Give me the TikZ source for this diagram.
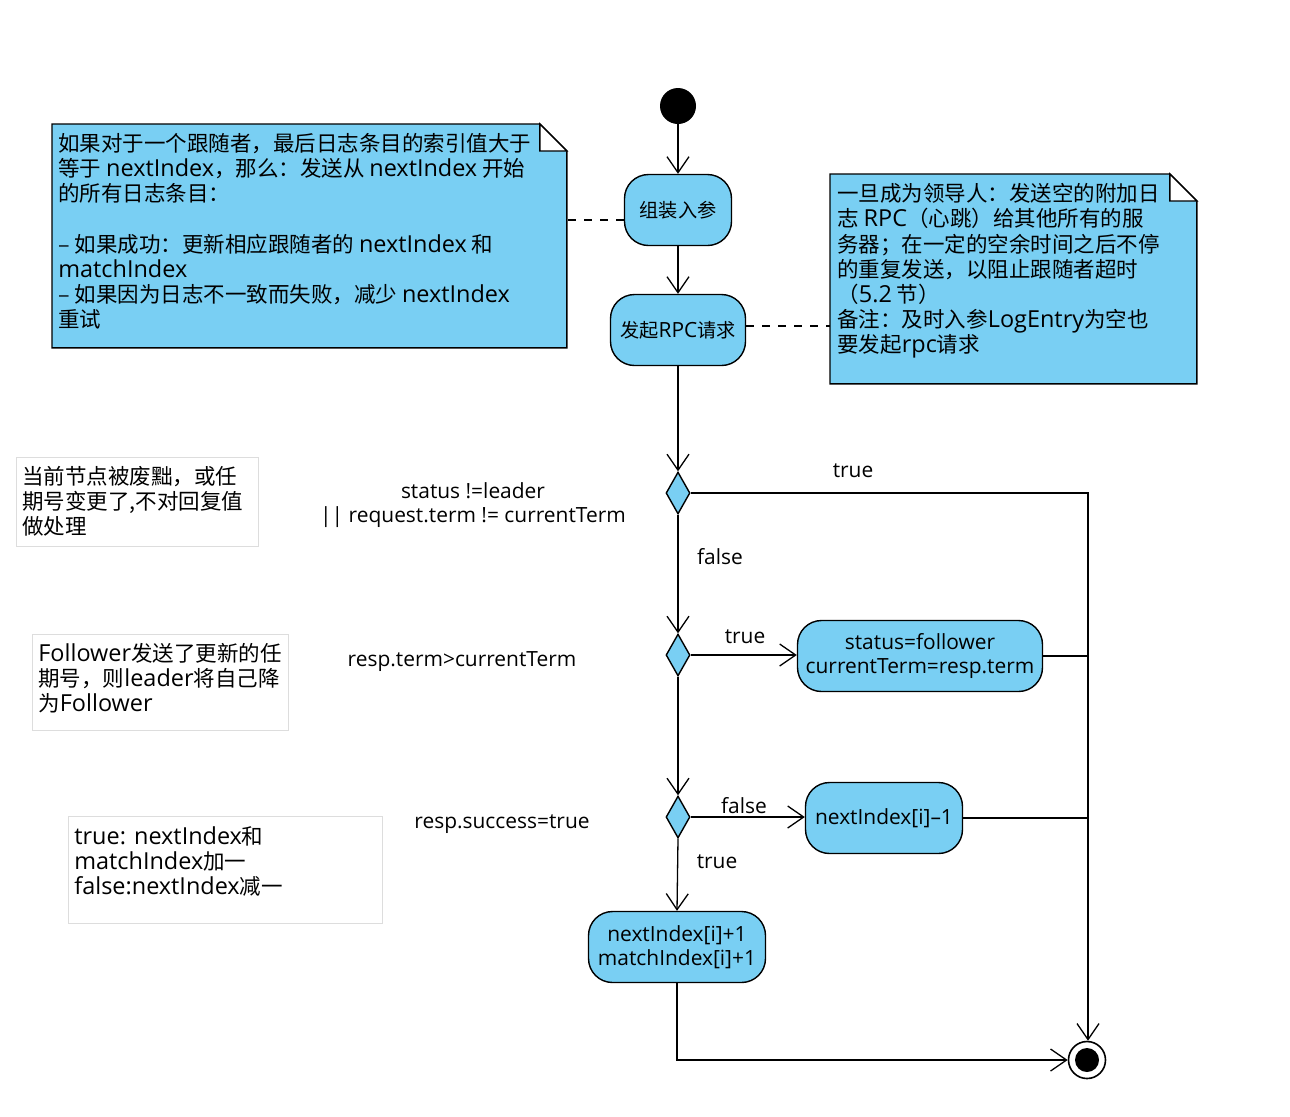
\documentclass[tikz,border=0pt]{standalone}
\usepackage{fontspec}
\setmainfont{Noto Sans CJK SC}
\newfontfamily\enfont[Scale=1.09]{Open Sans}
\usepackage{xcolor}
\usepackage{tikz}
\usetikzlibrary{shapes.geometric, arrows.meta, positioning}
\definecolor{actcolor}{RGB}{121,207,243}
\definecolor{cmtcolor}{RGB}{221,221,221}

\begin{document}
\begin{tikzpicture}[x=0.5pt, y=-0.5pt,
  act/.style={rectangle, rounded corners=12pt, draw, line width=0.7pt,
              fill=actcolor, minimum height=35.5pt, align=center,
              font=\fontsize{9.6}{12}\selectfont, inner sep=2pt},
  decision/.style={diamond, draw, line width=0.7pt, fill=actcolor,
                   minimum width=12pt, minimum height=21pt, inner sep=0pt},
  notebox/.style={rectangle, inner sep=0pt, anchor=north west},
  notetext/.style={align=left, inner sep=0pt, font=\fontsize{10.75}{12.6}\selectfont},
  cmtbox/.style={rectangle, draw=cmtcolor, line width=0.5pt, inner sep=0pt,
                 anchor=north west},
  lbl/.style={font=\enfont\fontsize{9.6}{12}\selectfont, inner sep=0pt, align=center},
  flow/.style={-{Straight Barb[length=8pt, width=11pt]}, line width=0.65pt},
  line/.style={line width=0.65pt},
  link/.style={dash pattern=on 4pt off 4pt, line width=0.6pt}
]
\useasboundingbox (0,0) rectangle (1290,1116);

% initial and final
\node[circle, fill=black, minimum size=18pt, inner sep=0pt] (start) at (678,106) {};
\node[circle, draw, line width=0.8pt, fill=white, minimum size=18.5pt, inner sep=0pt]
  (stop) at (1087,1060) {};
\node[circle, fill=black, minimum size=12pt, inner sep=0pt] (stopdot) at (stop) {};

% actions
\node[act, minimum width=53.5pt] (pack) at (678,210) {组装入参};
\node[act, minimum width=67.5pt] (send) at (678,330) {发起{\enfont RPC}请求};
\node[decision] (chkLeader) at (678,493) {};
\node[decision] (chkTerm) at (678,655) {};
\node[decision] (chkOk) at (678,817) {};
\node[act, font=\enfont\fontsize{9.6}{12}\selectfont, minimum width=122.5pt]
  (toFollower) at (920,656) {status=follower\\currentTerm=resp.term};
\node[act, font=\enfont\fontsize{9.6}{12}\selectfont, minimum width=78.5pt]
  (decNext) at (884,818) {nextIndex[i]–1};
\node[act, font=\enfont\fontsize{9.6}{12}\selectfont, minimum width=88.5pt]
  (incNext) at (677,947) {nextIndex[i]+1\\matchIndex[i]+1};
\coordinate (rail) at (1088,493);

% notes
\node[notebox, minimum width=257pt, minimum height=111.5pt] (note1) at (52,124) {};
\filldraw[fill=actcolor, line width=0.7pt] (note1.south west) -- (note1.north west)
  -- ([xshift=-13.5pt]note1.north east) -- ([yshift=-13.5pt]note1.north east)
  -- (note1.south east) -- cycle;
\filldraw[fill=white, line width=0.7pt] ([xshift=-13.5pt]note1.north east)
  -- ([xshift=-13.5pt, yshift=-13.5pt]note1.north east)
  -- ([yshift=-13.5pt]note1.north east) -- cycle;
\node[notetext, below right=4.5pt and 3pt of note1.north west] (note1txt)
  {如果对于一个跟随者，最后日志条目的索引值大于\\
   等于 {\enfont nextIndex}，那么：发送从 {\enfont nextIndex} 开始\\
   的所有日志条目：\\[12.6pt]
   – 如果成功：更新相应跟随者的 {\enfont nextIndex} 和\\
   {\enfont matchIndex}\\
   – 如果因为日志不一致而失败，减少 {\enfont nextIndex}\\
   重试};

\node[notebox, minimum width=183pt, minimum height=104.5pt] (note2) at (830,174) {};
\filldraw[fill=actcolor, line width=0.7pt] (note2.south west) -- (note2.north west)
  -- ([xshift=-13.5pt]note2.north east) -- ([yshift=-13.5pt]note2.north east)
  -- (note2.south east) -- cycle;
\filldraw[fill=white, line width=0.7pt] ([xshift=-13.5pt]note2.north east)
  -- ([xshift=-13.5pt, yshift=-13.5pt]note2.north east)
  -- ([yshift=-13.5pt]note2.north east) -- cycle;
\node[notetext, below right=4.5pt and 3.5pt of note2.north west] (note2txt)
  {一旦成为领导人：发送空的附加日\\
   志 {\enfont RPC}（心跳）给其他所有的服\\
   务器；在一定的空余时间之后不停\\
   的重复发送，以阻止跟随者超时\\
   （{\enfont 5.2} 节）\\
   备注：及时入参{\enfont LogEntry}为空也\\
   要发起{\enfont rpc}请求};

\draw[link] ([yshift=-5pt]pack.west) -- ([yshift=-5pt]pack.west -| note1.east);
\draw[link] ([yshift=2pt]send.east) -- ([yshift=2pt]send.east -| note2.west);

% comments
\node[cmtbox, minimum width=121pt, minimum height=44.5pt] (cmt1) at (16,457) {};
\node[notetext, below right=4.5pt and 3pt of cmt1.north west] (cmt1txt)
  {当前节点被废黜，或任\\期号变更了,不对回复值\\做处理};
\node[cmtbox, minimum width=128pt, minimum height=48pt] (cmt2) at (32,634) {};
\node[notetext, below right=4.5pt and 3pt of cmt2.north west] (cmt2txt)
  {{\enfont Follower}发送了更新的任\\期号，则{\enfont leader}将自己降\\为{\enfont Follower}};
\node[cmtbox, minimum width=157pt, minimum height=53.5pt] (cmt3) at (68,816) {};
\node[notetext, below right=5pt and 3pt of cmt3.north west] (cmt3txt)
  {{\enfont true: nextIndex}和\\{\enfont matchIndex}加一\\{\enfont false:nextIndex}减一};

% guards
\node[lbl] (condLeader) at (473,505) {status !=leader\\|| request.term != currentTerm};
\node[lbl] (condTerm) at (462,662) {resp.term>currentTerm};
\node[lbl] (condOk) at (502,824) {resp.success=true};

% flows
\draw[flow] (start) -- (pack);
\draw[flow] (pack) -- (send);
\draw[flow] (send) -- (chkLeader);
\draw[flow] (chkLeader.east) -- (rail) -- (rail |- stop.north);
\draw[flow] (chkLeader) -- (chkTerm);
\draw[flow] (chkTerm) -- (chkTerm -| toFollower.west);
\draw[line] (toFollower.east) -- (toFollower.east -| rail);
\draw[flow] (chkTerm) -- (chkOk);
\draw[flow] (chkOk) -- (chkOk -| decNext.west);
\draw[line] (decNext.east) -- (decNext.east -| rail);
\draw[flow] (chkOk.south) -- (incNext.north);
\draw[flow] (incNext.south) |- (stop.west);

\node[lbl] (lblTrue1) at (853,471) {true};
\node[lbl] (lblFalse1) at (720,557) {false};
\node[lbl] (lblTrue2) at (745,637) {true};
\node[lbl] (lblFalse2) at (744,806) {false};
\node[lbl] (lblTrue3) at (717,862) {true};

\end{tikzpicture}
\end{document}
